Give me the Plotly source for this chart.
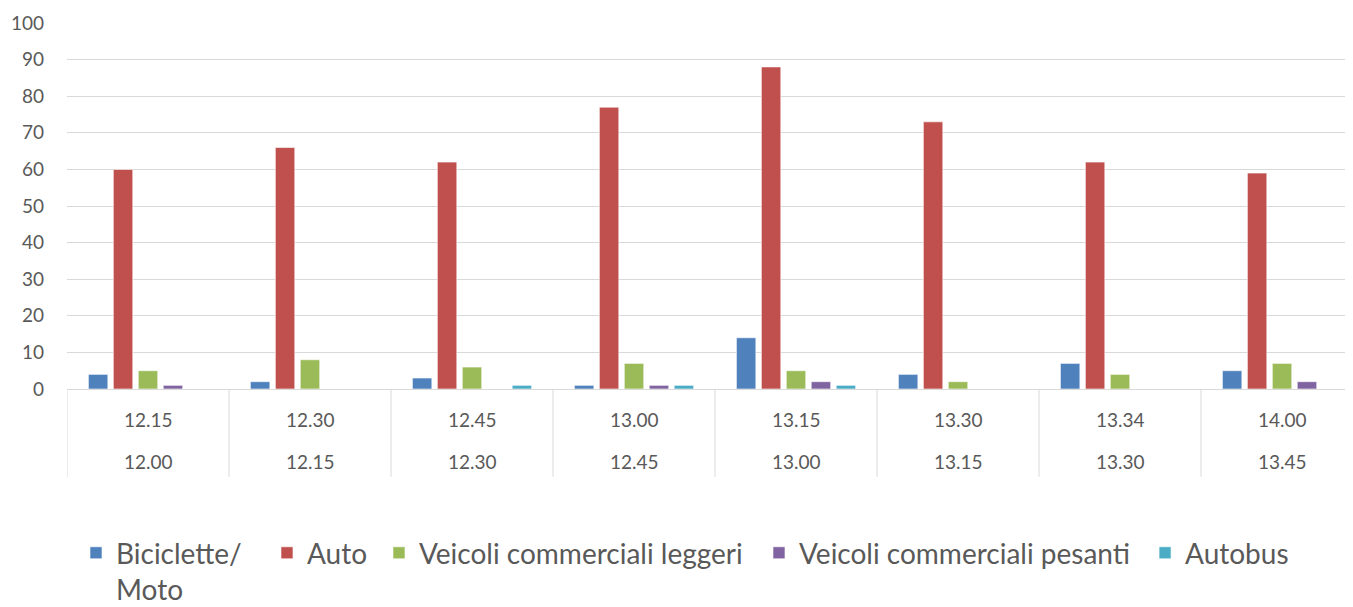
import plotly.graph_objects as go

fine = ["12.15", "12.30", "12.45", "13.00", "13.15", "13.30", "13.34", "14.00"]
inizio = ["12.00", "12.15", "12.30", "12.45", "13.00", "13.15", "13.30", "13.45"]

series_names = ["Biciclette/<br>Moto", "Auto", "Veicoli commerciali leggeri",
                "Veicoli commerciali pesanti", "Autobus"]
bici = [4, 2, 3, 1, 14, 4, 7, 5]
auto = [60, 66, 62, 77, 88, 73, 62, 59]
vcl = [5, 8, 6, 7, 5, 2, 4, 7]
vcp = [1, 0, 0, 1, 2, 0, 0, 2]
autobus = [0, 0, 1, 1, 1, 0, 0, 0]
colors = ["#4f81bd", "#c0504d", "#9bbb59", "#8064a2", "#4bacc6"]

FONT = "Lato, Open Sans, sans-serif"
TXT = "#595959"

legend_ids = ["legend", "legend2", "legend3", "legend4", "legend5"]
legend_x = [0.007, 0.1555, 0.2426, 0.5381, 0.8383]

cats = list(range(len(fine)))
fig = go.Figure()
for name, vals, col, lg in zip(series_names, [bici, auto, vcl, vcp, autobus],
                               colors, legend_ids):
    fig.add_trace(go.Bar(
        x=cats, y=vals, name=name, legend=lg,
        marker=dict(color=col, line=dict(color="rgba(255,255,255,0.6)", width=1)),
    ))

# category labels (two levels)
for i in cats:
    fig.add_annotation(x=i, y=-0.082, xref="x", yref="paper", text=fine[i],
                       showarrow=False, font=dict(family=FONT, size=19, color=TXT),
                       yanchor="middle")
    fig.add_annotation(x=i, y=-0.199, xref="x", yref="paper", text=inizio[i],
                       showarrow=False, font=dict(family=FONT, size=19, color=TXT),
                       yanchor="middle")
# separators
for i in range(len(fine) + 1):
    fig.add_shape(type="line", xref="x", yref="paper", x0=i - 0.5, x1=i - 0.5,
                  y0=0, y1=-0.24, line=dict(color="#d9d9d9", width=1))

legend_style = dict(orientation="h", xanchor="left", y=-0.38, yanchor="top",
                    font=dict(family=FONT, size=28, color=TXT), valign="top",
                    itemwidth=30, bgcolor="rgba(0,0,0,0)")
legends = {lg: dict(legend_style, x=lx) for lg, lx in zip(legend_ids, legend_x)}

fig.update_layout(
    width=1345, height=599,
    margin=dict(l=59, r=0, t=15, b=218, autoexpand=False),
    plot_bgcolor="white", paper_bgcolor="white",
    barmode="group", bargap=0.23, bargroupgap=0.22,
    font=dict(family=FONT, color=TXT),
    showlegend=True,
    xaxis=dict(type="linear", range=[-0.5, 7.438], showticklabels=False,
               showgrid=False, zeroline=False, showline=False, ticks="",
               automargin=False),
    yaxis=dict(range=[0, 100], dtick=10, showgrid=True, gridcolor="#d9d9d9",
               gridwidth=1, zeroline=True, zerolinecolor="#d9d9d9", zerolinewidth=1,
               tickfont=dict(family=FONT, size=19, color=TXT), ticks="",
               ticklabelstandoff=22, automargin=False),
    **legends,
)

fig.write_html("out.html")
